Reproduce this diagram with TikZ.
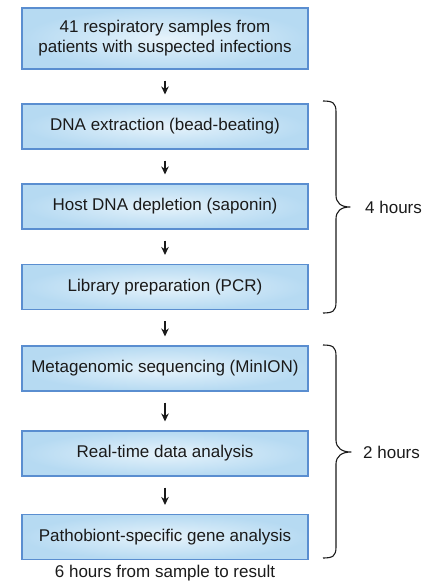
\documentclass[tikz,border=0pt]{standalone}
\usepackage{fontspec}
\setmainfont{Liberation Sans}
\usetikzlibrary{arrows.meta}
\definecolor{boxedge}{HTML}{5A8ED0}
\definecolor{boxinner}{HTML}{E6F3FB}
\definecolor{boxouter}{HTML}{B6DAF2}
\definecolor{ink}{HTML}{1A1A1A}
\tikzset{
  stepbox/.style={draw=boxedge, line width=1.1pt, shading=radial,
    inner color=boxinner, outer color=boxouter, minimum width=286pt,
    minimum height=45pt, inner sep=0pt, align=center, text=ink,
    font=\fontsize{17}{20}\selectfont},
  flow/.style={line width=1.1pt, draw=ink, -{Stealth[length=8pt,width=7.5pt]}},
  bracepath/.style={line width=1.1pt, draw=ink, line join=round},
  caption/.style={text=ink, font=\fontsize{17}{20}\selectfont, inner sep=0pt}
}
\begin{document}
\begin{tikzpicture}[x=1pt,y=-1pt]
\useasboundingbox (0,0) rectangle (438,587);

% workflow steps
\node[stepbox, minimum height=61pt] (s1) at (165,38.5) {41 respiratory samples from\\patients with suspected infections};
\node[stepbox] (s2) at (165,126.5) {DNA extraction (bead-beating)};
\node[stepbox] (s3) at (165,206.5) {Host DNA depletion (saponin)};
\node[stepbox] (s4) at (165,287) {Library preparation (PCR)};
\node[stepbox] (s5) at (165,368.5) {Metagenomic sequencing (MinION)};
\node[stepbox] (s6) at (165,453.5) {Real-time data analysis};
\node[stepbox] (s7) at (165,537) {Pathobiont-specific gene analysis};

% arrows between steps
\foreach \a/\b in {s1/s2,s2/s3,s3/s4,s4/s5,s5/s6,s6/s7}
  \draw[flow] ([yshift=-11pt]\a.south) -- ([yshift=9pt]\b.north);

% braces grouping the steps by time
\coordinate (t1) at (350,207);
\coordinate (t2) at (351,452);
\draw[bracepath] (323,101) .. controls (333,101) and (336,103) .. (336,112)
  -- (336,195) .. controls (336,203) and (341,207) .. (t1)
  .. controls (341,207) and (336,211) .. (336,219)
  -- (336,302) .. controls (336,311) and (333,313) .. (323,313);
\draw[bracepath] (323,345) .. controls (333,345) and (336,347) .. (336,356)
  -- (336,440) .. controls (336,448) and (342,452) .. (t2)
  .. controls (342,452) and (336,456) .. (336,464)
  -- (336,547) .. controls (336,556) and (333,558) .. (323,558);

\node[caption, anchor=west] (h4) at (365,207) {4 hours};
\node[caption, anchor=west] (h2) at (363,452) {2 hours};
\node[caption] (total) at (165,573) {6 hours from sample to result};
\end{tikzpicture}
\end{document}
